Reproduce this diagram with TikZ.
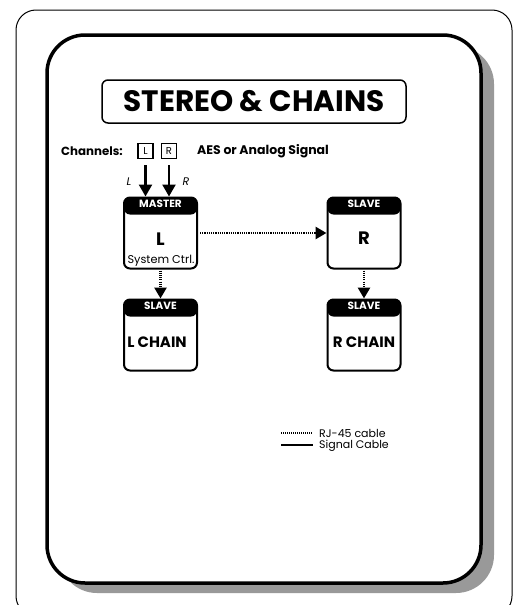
\documentclass[tikz,border=0pt]{standalone}
\usepackage{fontspec}
\setmainfont{Poppins}
\usetikzlibrary{arrows.meta}
\begin{document}
\begin{tikzpicture}[x=1pt,y=-1pt,
  chbox/.style={draw,line width=2pt,rounded corners=6pt,minimum width=73pt,minimum height=71pt,inner sep=0pt,
    path picture={\fill (path picture bounding box.north west) rectangle ([yshift=-17pt]path picture bounding box.north east);}},
  hdr/.style={text=white,font=\bfseries\fontsize{10.5}{12}\selectfont,anchor=north,inner sep=0pt,yshift=-3.5pt},
  rjarrow/.style={line width=2.8pt,dash pattern=on 1.1pt off 1.1pt,-{Triangle[length=11pt,width=12pt]}},
  sigarrow/.style={line width=2.4pt,-{Triangle[length=12pt,width=13pt]}},
  chlbl/.style={draw,line width=1.3pt,inner sep=0pt,minimum width=15pt,minimum height=15pt,font=\fontsize{10}{12}\selectfont},
  lgtxt/.style={anchor=west,inner sep=0pt,font=\fontsize{11}{13}\selectfont}
]
\useasboundingbox (0,0) rectangle (517,605);
% outer frame
\draw[line width=1pt,rounded corners=20pt] (16,10) rectangle (512,616);
% shadow and main frame
\fill[black!40,rounded corners=38pt] (59,46) rectangle (494,593);
\draw[fill=white,line width=3.5pt,rounded corners=38pt] (47,35) rectangle (481,583);
% title
\node[draw,line width=1.5pt,rounded corners=6pt,minimum width=304pt,minimum height=43pt,inner sep=0pt,
  font=\bfseries\fontsize{29.5}{32}\selectfont] (title) at (254,101.5) {STEREO \& CHAINS};
% channels line
\node[anchor=west,font=\bfseries\fontsize{11.8}{13}\selectfont,inner sep=0pt] (chtxt) at (61,151) {Channels:};
\node[chlbl] (chL) at (145.5,151) {L};
\node[chlbl] (chR) at (169,151) {R};
\node[anchor=west,font=\bfseries\fontsize{12.5}{14}\selectfont,inner sep=0pt] (aes) at (197,151) {AES or Analog Signal};
% boxes
\node[chbox] (master) at (160.5,233) {};
\node[hdr] at (master.north) {MASTER};
\node[font=\bfseries\fontsize{18}{20}\selectfont,inner sep=0pt] (mL) at (160.5,239) {L};
\node[font=\fontsize{11.3}{13}\selectfont,inner sep=0pt] (msys) at (161,261) {System Ctrl.};

\node[chbox] (slaveR) at (364,233) {};
\node[hdr] at (slaveR.north) {SLAVE};
\node[font=\bfseries\fontsize{18}{20}\selectfont,inner sep=0pt] (sR) at (364,238) {R};

\node[chbox] (lchain) at (160.5,335) {};
\node[hdr] at (lchain.north) {SLAVE};
\node[font=\bfseries\fontsize{15}{18}\selectfont,inner sep=0pt] (lct) at (157,342) {L CHAIN};

\node[chbox] (rchain) at (364,335) {};
\node[hdr] at (rchain.north) {SLAVE};
\node[font=\bfseries\fontsize{15}{18}\selectfont,inner sep=0pt] (rct) at (364,342) {R CHAIN};
% input arrows
\draw[sigarrow,shorten <=6pt] (chL.south) -- (chL.south |- master.north);
\draw[sigarrow,shorten <=6pt] (chR.south) -- (chR.south |- master.north);
\node[font=\itshape\fontsize{11}{13}\selectfont,inner sep=0pt] (il) at (129,182) {L};
\node[font=\itshape\fontsize{11}{13}\selectfont,inner sep=0pt] (ir) at (186,182) {R};
% RJ-45 links
\draw[rjarrow,shorten <=2pt] (master.east) -- (slaveR.west);
\draw[rjarrow,shorten <=1pt] (master.south) -- (lchain.north);
\draw[rjarrow,shorten <=1pt] (slaveR.south) -- (rchain.north);
% legend
\coordinate (la) at (281,433);
\coordinate (lb) at (313,433);
\coordinate (lc) at (281,445);
\coordinate (ld) at (313,445);
\draw[line width=1.8pt,dash pattern=on 1pt off 1pt] (la) -- (lb);
\draw[line width=1.5pt] (lc) -- (ld);
\node[lgtxt] (lt1) at (319,433) {RJ-45 cable};
\node[lgtxt] (lt2) at (319,445.5) {Signal Cable};
\end{tikzpicture}
\end{document}
